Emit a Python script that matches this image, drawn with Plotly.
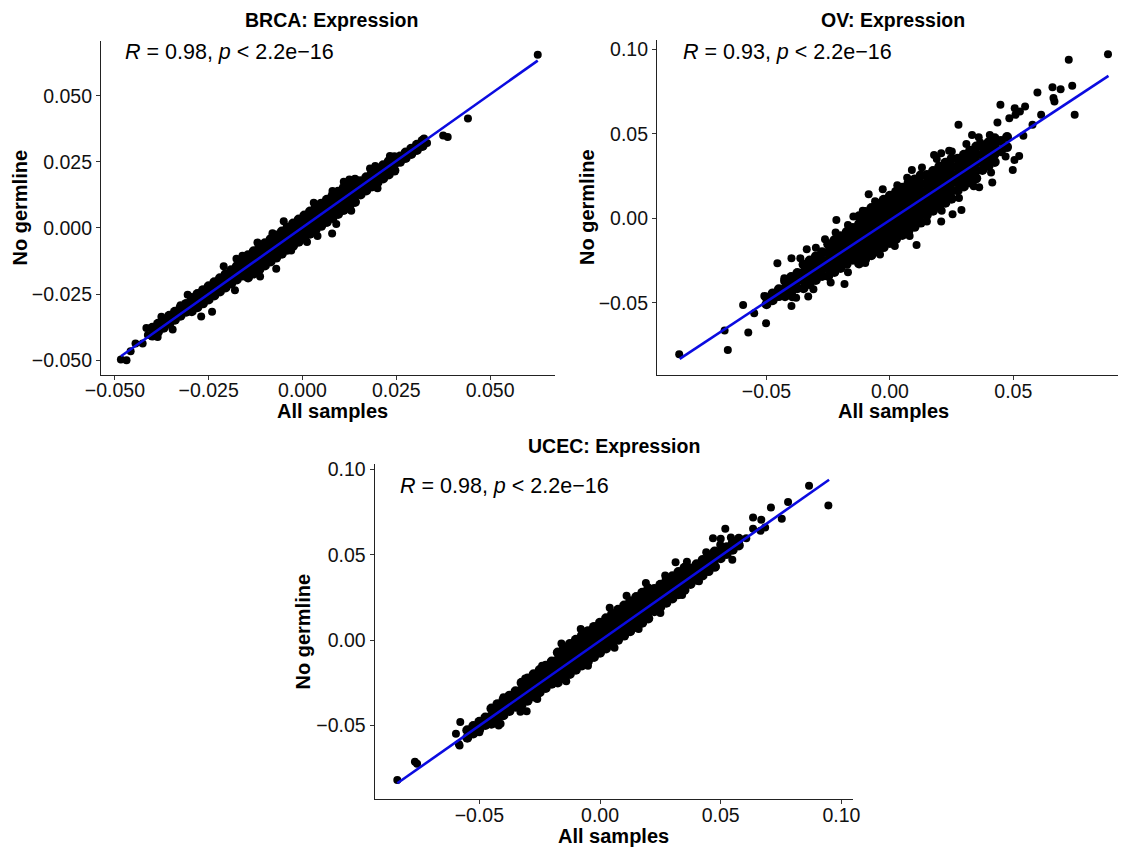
import plotly.graph_objects as go

FONT = "Liberation Sans, Arial, Helvetica, sans-serif"

# ---------------- BRCA ----------------
brca_core_x = [
    -0.0400, -0.0400, -0.0385, -0.0385, -0.0370, -0.0370, -0.0355, -0.0355, -0.0340, -0.0340, -0.0325, -0.0325, -0.0310, -0.0310,
    -0.0295, -0.0295, -0.0295, -0.0280, -0.0280, -0.0280, -0.0265, -0.0265, -0.0265, -0.0250, -0.0250, -0.0250, -0.0235, -0.0235, -0.0235,
    -0.0220, -0.0220, -0.0220, -0.0205, -0.0205, -0.0205, -0.0190, -0.0190, -0.0190, -0.0175, -0.0175, -0.0175, -0.0160, -0.0160, -0.0160,
    -0.0145, -0.0145, -0.0145, -0.0145, -0.0130, -0.0130, -0.0130, -0.0130, -0.0115, -0.0115, -0.0115, -0.0115, -0.0100, -0.0100, -0.0100, -0.0100, -0.0085, -0.0085, -0.0085, -0.0085,
    -0.0070, -0.0070, -0.0070, -0.0070, -0.0055, -0.0055, -0.0055, -0.0055, -0.0040, -0.0040, -0.0040, -0.0040, -0.0025, -0.0025, -0.0025, -0.0025, -0.0010, -0.0010, -0.0010, -0.0010,
    0.0005, 0.0005, 0.0005, 0.0005, 0.0020, 0.0020, 0.0020, 0.0020, 0.0035, 0.0035, 0.0035, 0.0035, 0.0050, 0.0050, 0.0050, 0.0050, 0.0065, 0.0065, 0.0065, 0.0065,
    0.0080, 0.0080, 0.0080, 0.0080, 0.0095, 0.0095, 0.0095, 0.0095, 0.0110, 0.0110, 0.0110, 0.0110, 0.0125, 0.0125, 0.0125, 0.0125, 0.0140, 0.0140, 0.0140, 0.0140,
    0.0155, 0.0155, 0.0155, 0.0170, 0.0170, 0.0170, 0.0185, 0.0185, 0.0185, 0.0200, 0.0200, 0.0200, 0.0215, 0.0215, 0.0215, 0.0230, 0.0230, 0.0230, 0.0245, 0.0245, 0.0245,
    0.0260, 0.0260, 0.0275, 0.0275, 0.0290, 0.0290, 0.0305, 0.0305, 0.0320, 0.0320,
]
brca_core_y = [
    -0.0407, -0.0377, -0.0392, -0.0362, -0.0377, -0.0347, -0.0362, -0.0332, -0.0347, -0.0317, -0.0332, -0.0302, -0.0317, -0.0287,
    -0.0315, -0.0290, -0.0265, -0.0300, -0.0275, -0.0250, -0.0285, -0.0260, -0.0235, -0.0270, -0.0245, -0.0220, -0.0255, -0.0230, -0.0205,
    -0.0240, -0.0215, -0.0190, -0.0225, -0.0200, -0.0175, -0.0210, -0.0185, -0.0160, -0.0195, -0.0170, -0.0145, -0.0180, -0.0155, -0.0130,
    -0.0187, -0.0159, -0.0131, -0.0103, -0.0172, -0.0144, -0.0116, -0.0088, -0.0157, -0.0129, -0.0101, -0.0073, -0.0142, -0.0114, -0.0086, -0.0058, -0.0127, -0.0099, -0.0071, -0.0043,
    -0.0112, -0.0084, -0.0056, -0.0028, -0.0097, -0.0069, -0.0041, -0.0013, -0.0082, -0.0054, -0.0026, 0.0002, -0.0067, -0.0039, -0.0011, 0.0017, -0.0052, -0.0024, 0.0004, 0.0032,
    -0.0037, -0.0009, 0.0019, 0.0047, -0.0022, 0.0006, 0.0034, 0.0062, -0.0007, 0.0021, 0.0049, 0.0077, 0.0008, 0.0036, 0.0064, 0.0092, 0.0023, 0.0051, 0.0079, 0.0107,
    0.0038, 0.0066, 0.0094, 0.0122, 0.0053, 0.0081, 0.0109, 0.0137, 0.0068, 0.0096, 0.0124, 0.0152, 0.0083, 0.0111, 0.0139, 0.0167, 0.0098, 0.0126, 0.0154, 0.0182,
    0.0127, 0.0152, 0.0177, 0.0142, 0.0167, 0.0192, 0.0157, 0.0182, 0.0207, 0.0172, 0.0197, 0.0222, 0.0187, 0.0212, 0.0237, 0.0202, 0.0227, 0.0252, 0.0217, 0.0242, 0.0267,
    0.0250, 0.0270, 0.0265, 0.0285, 0.0280, 0.0300, 0.0295, 0.0315, 0.0310, 0.0330,
]
brca_edge_x = [-0.0210, -0.0120, -0.0050, -0.0160, -0.0080, 0.0030, 0.0080, 0.0110, 0.0180,
               -0.0030, 0.0040, 0.0090, 0.0130, 0.0200, -0.0180, -0.0270]
brca_edge_y = [-0.0145, -0.0055, 0.0025, -0.0105, -0.0020, 0.0095, 0.0140, 0.0175, 0.0225,
               -0.0085, -0.0030, 0.0015, 0.0065, 0.0150, -0.0235, -0.0335]
brca_out_x = [0.0627, 0.0441, 0.0375, 0.0387, 0.0332, 0.0324, 0.0284, 0.0233, 0.0194, 0.0125,
              0.0079, 0.0012, -0.0070, -0.0113, -0.0176, -0.0241, -0.0306, -0.0325, -0.0376, -0.0416,
              -0.0346, -0.0386, -0.0412, -0.0445, -0.0426, -0.0458, -0.0484, -0.0469, 0.0290, 0.0257]
brca_out_y = [0.0655, 0.0414, 0.0350, 0.0344, 0.0321, 0.0338, 0.0281, 0.0272, 0.0234, 0.0183,
              -0.0021, -0.0053, -0.0154, -0.0183, -0.0116, -0.0317, -0.0252, -0.0292, -0.0336, -0.0378,
              -0.0384, -0.0412, -0.0405, -0.0437, -0.0437, -0.0466, -0.0497, -0.0500, 0.0287, 0.0268]
brca_fit_x = [-0.0484, 0.0627]
brca_fit_y = [-0.0485, 0.0633]

# ---------------- OV ----------------
ov_core_x = [
    -0.0500, -0.0500, -0.0475, -0.0475, -0.0450, -0.0450,
    -0.0425, -0.0425, -0.0425, -0.0400, -0.0400, -0.0400, -0.0375, -0.0375, -0.0375,
    -0.0350, -0.0350, -0.0350, -0.0350, -0.0325, -0.0325, -0.0325, -0.0325, -0.0300, -0.0300, -0.0300, -0.0300, -0.0275, -0.0275, -0.0275, -0.0275,
    -0.0250, -0.0250, -0.0250, -0.0250, -0.0250, -0.0225, -0.0225, -0.0225, -0.0225, -0.0225, -0.0200, -0.0200, -0.0200, -0.0200, -0.0200,
    -0.0175, -0.0175, -0.0175, -0.0175, -0.0175, -0.0150, -0.0150, -0.0150, -0.0150, -0.0150,
    -0.0125, -0.0125, -0.0125, -0.0125, -0.0125, -0.0125, -0.0125,
    -0.0100, -0.0100, -0.0100, -0.0100, -0.0100, -0.0100, -0.0100,
    -0.0075, -0.0075, -0.0075, -0.0075, -0.0075, -0.0075, -0.0075,
    -0.0050, -0.0050, -0.0050, -0.0050, -0.0050, -0.0050, -0.0050,
    -0.0025, -0.0025, -0.0025, -0.0025, -0.0025, -0.0025, -0.0025,
    0.0000, 0.0000, 0.0000, 0.0000, 0.0000, 0.0000, 0.0000,
    0.0025, 0.0025, 0.0025, 0.0025, 0.0025, 0.0025, 0.0025,
    0.0050, 0.0050, 0.0050, 0.0050, 0.0050, 0.0050, 0.0050,
    0.0075, 0.0075, 0.0075, 0.0075, 0.0075, 0.0075, 0.0075,
    0.0100, 0.0100, 0.0100, 0.0100, 0.0100, 0.0100, 0.0100,
    0.0125, 0.0125, 0.0125, 0.0125, 0.0125, 0.0125, 0.0125,
    0.0150, 0.0150, 0.0150, 0.0150, 0.0150, 0.0150,
    0.0175, 0.0175, 0.0175, 0.0175, 0.0175, 0.0175,
    0.0200, 0.0200, 0.0200, 0.0200, 0.0200, 0.0200,
    0.0225, 0.0225, 0.0225, 0.0225, 0.0225, 0.0225,
    0.0250, 0.0250, 0.0250, 0.0250, 0.0250, 0.0250,
    0.0275, 0.0275, 0.0275, 0.0275, 0.0275, 0.0300, 0.0300, 0.0300, 0.0300, 0.0300,
    0.0325, 0.0325, 0.0325, 0.0325, 0.0325, 0.0350, 0.0350, 0.0350, 0.0350, 0.0350,
    0.0375, 0.0375, 0.0375, 0.0375, 0.0400, 0.0400, 0.0400, 0.0400, 0.0425, 0.0425, 0.0425, 0.0425,
    0.0450, 0.0450, 0.0475, 0.0475,
]
ov_core_y = [
    -0.0509, -0.0469, -0.0485, -0.0445, -0.0461, -0.0421,
    -0.0462, -0.0417, -0.0372, -0.0438, -0.0393, -0.0348, -0.0414, -0.0369, -0.0324,
    -0.0414, -0.0367, -0.0321, -0.0274, -0.0390, -0.0343, -0.0297, -0.0250, -0.0366, -0.0319, -0.0273, -0.0226, -0.0342, -0.0295, -0.0249, -0.0202,
    -0.0342, -0.0295, -0.0248, -0.0201, -0.0154, -0.0318, -0.0271, -0.0224, -0.0177, -0.0130, -0.0294, -0.0247, -0.0200, -0.0153, -0.0106,
    -0.0270, -0.0223, -0.0176, -0.0129, -0.0082, -0.0246, -0.0199, -0.0152, -0.0105, -0.0058,
    -0.0268, -0.0221, -0.0175, -0.0128, -0.0081, -0.0035, 0.0012,
    -0.0243, -0.0196, -0.0150, -0.0103, -0.0056, -0.0010, 0.0037,
    -0.0219, -0.0172, -0.0126, -0.0079, -0.0032, 0.0014, 0.0061,
    -0.0195, -0.0148, -0.0102, -0.0055, -0.0008, 0.0038, 0.0085,
    -0.0171, -0.0124, -0.0078, -0.0031, 0.0016, 0.0062, 0.0109,
    -0.0147, -0.0100, -0.0054, -0.0007, 0.0040, 0.0086, 0.0133,
    -0.0123, -0.0076, -0.0030, 0.0017, 0.0064, 0.0110, 0.0157,
    -0.0099, -0.0052, -0.0006, 0.0041, 0.0088, 0.0134, 0.0181,
    -0.0075, -0.0028, 0.0018, 0.0065, 0.0112, 0.0158, 0.0205,
    -0.0051, -0.0004, 0.0042, 0.0089, 0.0136, 0.0182, 0.0229,
    -0.0026, 0.0021, 0.0067, 0.0114, 0.0161, 0.0207, 0.0254,
    0.0020, 0.0067, 0.0114, 0.0162, 0.0209, 0.0256,
    0.0044, 0.0091, 0.0138, 0.0186, 0.0233, 0.0280,
    0.0068, 0.0115, 0.0162, 0.0210, 0.0257, 0.0304,
    0.0092, 0.0139, 0.0186, 0.0234, 0.0281, 0.0328,
    0.0116, 0.0163, 0.0210, 0.0258, 0.0305, 0.0352,
    0.0164, 0.0211, 0.0258, 0.0305, 0.0352, 0.0188, 0.0235, 0.0282, 0.0329, 0.0376,
    0.0212, 0.0259, 0.0306, 0.0353, 0.0400, 0.0236, 0.0283, 0.0330, 0.0377, 0.0424,
    0.0285, 0.0332, 0.0378, 0.0425, 0.0309, 0.0356, 0.0402, 0.0449, 0.0333, 0.0380, 0.0426, 0.0473,
    0.0397, 0.0457, 0.0421, 0.0481,
]
ov_edge_x = [-0.0300, -0.0220, -0.0170, -0.0110, -0.0060, 0.0030, 0.0070, 0.0130, 0.0190, 0.0240, 0.0310, 0.0360,
             -0.0380, -0.0310, -0.0240, -0.0170, -0.0100, -0.0040, 0.0020, 0.0080, 0.0150, 0.0210, 0.0280, 0.0340, 0.0410]
ov_edge_y = [-0.0175, -0.0085, -0.0040, 0.0045, 0.0100, 0.0195, 0.0240, 0.0300, 0.0350, 0.0400, 0.0440, 0.0480,
             -0.0470, -0.0420, -0.0380, -0.0320, -0.0265, -0.0215, -0.0165, -0.0105, -0.0020, 0.0045, 0.0120, 0.0190, 0.0270]
ov_out_x = [-0.0854, -0.0657, -0.0670, -0.0574, -0.0595, -0.0502, -0.0550, -0.0509, -0.0492, -0.0456,
            -0.0428, -0.0399, -0.0456, -0.0363, -0.0399, -0.0395, -0.0331, -0.0337, -0.0263, -0.0184,
            -0.0217, -0.0148, -0.0086, -0.0029, 0.0089, 0.0108, 0.0208, 0.0254, 0.0290, 0.0278,
            0.0333, 0.0179, 0.0208, 0.0251, 0.0366, 0.0405, 0.0436, 0.0448, 0.0484, 0.0506,
            0.0509, 0.0527, 0.0548, 0.0505, 0.0524, 0.0498, 0.0541, 0.0578, 0.0598, 0.0613,
            0.0663, 0.0659, 0.0692, 0.0667, 0.0739, 0.0749, 0.0725, 0.0884, 0.0415, 0.0362,
            0.0405, 0.0469, 0.0146, 0.0053]
ov_out_y = [-0.0805, -0.0780, -0.0665, -0.0677, -0.0513, -0.0622, -0.0563, -0.0460, -0.0493, -0.0464,
            -0.0355, -0.0237, -0.0266, -0.0237, -0.0519, -0.0468, -0.0464, -0.0184, -0.0124, -0.0389,
            -0.0010, 0.0010, 0.0142, 0.0172, 0.0286, -0.0158, -0.0020, 0.0024, 0.0049, 0.0553,
            0.0493, 0.0375, 0.0385, 0.0395, 0.0448, 0.0493, 0.0566, 0.0671, 0.0592, 0.0651,
            0.0612, 0.0632, 0.0661, 0.0345, 0.0369, 0.0286, 0.0488, 0.0553, 0.0744, 0.0612,
            0.0711, 0.0776, 0.0764, 0.0691, 0.0784, 0.0612, 0.0938, 0.0971, 0.0211, 0.0184,
            0.0365, 0.0365, 0.0030, -0.0089]
ov_fit_x = [-0.0852, 0.0886]
ov_fit_y = [-0.0833, 0.0843]

# ---------------- UCEC ----------------
ucec_core_x = [
    -0.0550, -0.0550, -0.0525, -0.0525, -0.0500, -0.0500, -0.0475, -0.0475,
    -0.0450, -0.0450, -0.0450, -0.0425, -0.0425, -0.0425, -0.0400, -0.0400, -0.0400, -0.0375, -0.0375, -0.0375, -0.0350, -0.0350, -0.0350,
    -0.0325, -0.0325, -0.0325, -0.0325, -0.0300, -0.0300, -0.0300, -0.0300, -0.0275, -0.0275, -0.0275, -0.0275,
    -0.0250, -0.0250, -0.0250, -0.0250, -0.0225, -0.0225, -0.0225, -0.0225, -0.0200, -0.0200, -0.0200, -0.0200,
    -0.0175, -0.0175, -0.0175, -0.0175, -0.0175, -0.0150, -0.0150, -0.0150, -0.0150, -0.0150,
    -0.0125, -0.0125, -0.0125, -0.0125, -0.0125, -0.0100, -0.0100, -0.0100, -0.0100, -0.0100,
    -0.0075, -0.0075, -0.0075, -0.0075, -0.0075, -0.0050, -0.0050, -0.0050, -0.0050, -0.0050,
    -0.0025, -0.0025, -0.0025, -0.0025, -0.0025, 0.0000, 0.0000, 0.0000, 0.0000, 0.0000,
    0.0025, 0.0025, 0.0025, 0.0025, 0.0025, 0.0050, 0.0050, 0.0050, 0.0050, 0.0050,
    0.0075, 0.0075, 0.0075, 0.0075, 0.0075, 0.0100, 0.0100, 0.0100, 0.0100, 0.0100,
    0.0125, 0.0125, 0.0125, 0.0125, 0.0125, 0.0150, 0.0150, 0.0150, 0.0150, 0.0150,
    0.0175, 0.0175, 0.0175, 0.0175, 0.0175, 0.0200, 0.0200, 0.0200, 0.0200, 0.0200,
    0.0225, 0.0225, 0.0225, 0.0225, 0.0250, 0.0250, 0.0250, 0.0250, 0.0275, 0.0275, 0.0275, 0.0275,
    0.0300, 0.0300, 0.0300, 0.0300, 0.0325, 0.0325, 0.0325, 0.0325, 0.0350, 0.0350, 0.0350, 0.0350,
    0.0375, 0.0375, 0.0375, 0.0400, 0.0400, 0.0400, 0.0425, 0.0425, 0.0425, 0.0450, 0.0450, 0.0450, 0.0475, 0.0475, 0.0475,
    0.0500, 0.0500, 0.0525, 0.0525, 0.0550, 0.0550, 0.0575, 0.0575,
]
ucec_core_y = [
    -0.0572, -0.0528, -0.0547, -0.0503, -0.0522, -0.0478, -0.0497, -0.0453,
    -0.0490, -0.0445, -0.0400, -0.0465, -0.0420, -0.0375, -0.0440, -0.0395, -0.0350, -0.0415, -0.0370, -0.0325, -0.0390, -0.0345, -0.0300,
    -0.0380, -0.0337, -0.0293, -0.0250, -0.0355, -0.0312, -0.0268, -0.0225, -0.0330, -0.0287, -0.0243, -0.0200,
    -0.0305, -0.0262, -0.0218, -0.0175, -0.0280, -0.0237, -0.0193, -0.0150, -0.0255, -0.0212, -0.0168, -0.0125,
    -0.0248, -0.0204, -0.0160, -0.0116, -0.0072, -0.0223, -0.0179, -0.0135, -0.0091, -0.0047,
    -0.0198, -0.0154, -0.0110, -0.0066, -0.0022, -0.0173, -0.0129, -0.0085, -0.0041, 0.0003,
    -0.0148, -0.0104, -0.0060, -0.0016, 0.0028, -0.0123, -0.0079, -0.0035, 0.0009, 0.0053,
    -0.0098, -0.0054, -0.0010, 0.0034, 0.0078, -0.0073, -0.0029, 0.0015, 0.0059, 0.0103,
    -0.0048, -0.0004, 0.0040, 0.0084, 0.0128, -0.0023, 0.0021, 0.0065, 0.0109, 0.0153,
    0.0002, 0.0046, 0.0090, 0.0134, 0.0178, 0.0027, 0.0071, 0.0115, 0.0159, 0.0203,
    0.0052, 0.0096, 0.0140, 0.0184, 0.0228, 0.0077, 0.0121, 0.0165, 0.0209, 0.0253,
    0.0102, 0.0146, 0.0190, 0.0234, 0.0278, 0.0127, 0.0171, 0.0215, 0.0259, 0.0303,
    0.0170, 0.0213, 0.0257, 0.0300, 0.0195, 0.0238, 0.0282, 0.0325, 0.0220, 0.0263, 0.0307, 0.0350,
    0.0245, 0.0288, 0.0332, 0.0375, 0.0270, 0.0313, 0.0357, 0.0400, 0.0295, 0.0338, 0.0382, 0.0425,
    0.0330, 0.0375, 0.0420, 0.0355, 0.0400, 0.0445, 0.0380, 0.0425, 0.0470, 0.0405, 0.0450, 0.0495, 0.0430, 0.0475, 0.0520,
    0.0480, 0.0520, 0.0505, 0.0545, 0.0530, 0.0570, 0.0555, 0.0595,
]
ucec_edge_x = [-0.0400, -0.0310, -0.0240, -0.0160, -0.0080, 0.0040, 0.0110, 0.0190, 0.0270, 0.0360, 0.0440, 0.0500,
               -0.0420, -0.0330, -0.0260, -0.0140, -0.0050, 0.0060, 0.0160, 0.0250, 0.0340, 0.0410, 0.0480]
ucec_edge_y = [-0.0335, -0.0225, -0.0150, -0.0020, 0.0065, 0.0190, 0.0260, 0.0335, 0.0380, 0.0460, 0.0515, 0.0595,
               -0.0500, -0.0420, -0.0345, -0.0240, -0.0150, -0.0045, 0.0065, 0.0160, 0.0265, 0.0345, 0.0430]
ucec_out_x = [-0.0840, -0.0767, -0.0758, -0.0585, -0.0579, -0.0597, -0.0582, -0.0412, -0.0500, -0.0304,
              0.0313, 0.0519, 0.0468, 0.0542, 0.0548, 0.0668, 0.0634, 0.0708, 0.0753, 0.0779,
              0.0684, 0.0665, 0.0634, 0.0866, 0.0946, 0.0606, 0.0576, 0.0498]
ucec_out_y = [-0.0820, -0.0712, -0.0725, -0.0608, -0.0480, -0.0549, -0.0618, -0.0490, -0.0539, -0.0416,
              0.0457, 0.0653, 0.0598, 0.0602, 0.0471, 0.0706, 0.0720, 0.0778, 0.0712, 0.0810,
              0.0661, 0.0641, 0.0653, 0.0906, 0.0790, 0.0598, 0.0569, 0.0559]
ucec_fit_x = [-0.0840, 0.0949]
ucec_fit_y = [-0.0839, 0.0941]

# ---------------- labels / ticks ----------------
titles = ["BRCA: Expression", "OV: Expression", "UCEC: Expression"]
r_labels = ["0.98", "0.93", "0.98"]
x_label = "All samples"
y_label = "No germline"
brca_ticks = [-0.05, -0.025, 0.0, 0.025, 0.05]
brca_ticktext = ["\u22120.050", "\u22120.025", "0.000", "0.025", "0.050"]
ov_xticks = [-0.05, 0.0, 0.05]
ov_xticktext = ["\u22120.05", "0.00", "0.05"]
ov_yticks = [-0.05, 0.0, 0.05, 0.10]
ov_yticktext = ["\u22120.05", "0.00", "0.05", "0.10"]
ucec_ticks = [-0.05, 0.0, 0.05, 0.10]
ucec_ticktext = ["\u22120.05", "0.00", "0.05", "0.10"]

# page is 1126x848; the page body has an 8px margin, so the figure is 8px smaller
OFF = 8
W, H = 1126 - OFF, 848 - OFF
def px(x):
    return (x - OFF) / W
def py(y):
    return 1 - (y - OFF) / H

fig = go.Figure()
panels = [
    (brca_core_x, brca_core_y, brca_edge_x + brca_out_x, brca_edge_y + brca_out_y, brca_fit_x, brca_fit_y, "x", "y"),
    (ov_core_x, ov_core_y, ov_edge_x + ov_out_x, ov_edge_y + ov_out_y, ov_fit_x, ov_fit_y, "x2", "y2"),
    (ucec_core_x, ucec_core_y, ucec_edge_x + ucec_out_x, ucec_edge_y + ucec_out_y, ucec_fit_x, ucec_fit_y, "x3", "y3"),
]
for cx, cy, ox, oy, fx, fy, xa, ya in panels:
    fig.add_trace(go.Scatter(x=cx, y=cy, mode="markers", xaxis=xa, yaxis=ya,
                             marker=dict(color="black", size=10, line=dict(width=0)),
                             showlegend=False, hoverinfo="skip"))
    fig.add_trace(go.Scatter(x=ox, y=oy, mode="markers", xaxis=xa, yaxis=ya,
                             marker=dict(color="black", size=8, line=dict(width=0)),
                             showlegend=False, hoverinfo="skip"))
    fig.add_trace(go.Scatter(x=fx, y=fy, mode="lines", xaxis=xa, yaxis=ya,
                             line=dict(color="#0b0be0", width=2.6),
                             showlegend=False, hoverinfo="skip"))

def axis(domain, rng, tickvals, ticktext, anchor, standoff):
    return dict(domain=domain, range=rng, anchor=anchor, tickvals=tickvals, ticktext=ticktext,
                showline=True, linecolor="#222222", linewidth=1.2, ticks="outside", ticklen=4,
                tickwidth=1.1, tickcolor="#333333", showgrid=False, zeroline=False,
                tickfont=dict(family=FONT, size=19.5, color="#111111"), automargin=False,
                ticklabelstandoff=standoff, fixedrange=True)

fig.update_layout(
    width=W, height=H, template="none",
    margin=dict(l=0, r=0, t=0, b=0),
    paper_bgcolor="white", plot_bgcolor="white",
    xaxis=axis([px(101), px(555)], [-0.0537, 0.0673], brca_ticks, brca_ticktext, "y", -6),
    yaxis=axis([py(374.5), py(41)], [-0.0554, 0.0707], brca_ticks, brca_ticktext, "x", 0),
    xaxis2=axis([px(657), 1.0], [-0.0944, 0.0957], ov_xticks, ov_xticktext, "y2", -6),
    yaxis2=axis([py(375), py(40)], [-0.0928, 0.1055], ov_yticks, ov_yticktext, "x2", 0),
    xaxis3=axis([px(374.6), px(852.5)], [-0.0934, 0.1046], ucec_ticks, ucec_ticktext, "y3", -6),
    yaxis3=axis([py(799), py(464)], [-0.0931, 0.1033], ucec_ticks, ucec_ticktext, "x3", 0),
)

ann = []
title_pos = [(331.5, 20.5), (893, 20.5), (613.5, 446)]
xlab_pos = [(332.5, 410.5), (893, 410.5), (613.5, 835.5)]
ylab_pos = [(19, 207.5), (587, 207), (302.5, 632)]
r_pos = [(122.7, 52), (680.6, 52), (398, 486)]
for i in range(3):
    ann.append(dict(x=px(title_pos[i][0]), y=py(title_pos[i][1]), xref="paper", yref="paper",
                    text="<b>%s</b>" % titles[i], showarrow=False, xanchor="center", yanchor="middle",
                    font=dict(family=FONT, size=19.5, color="black")))
    ann.append(dict(x=px(xlab_pos[i][0]), y=py(xlab_pos[i][1]), xref="paper", yref="paper",
                    text="<b>%s</b>" % x_label, showarrow=False, xanchor="center", yanchor="middle",
                    font=dict(family=FONT, size=20, color="black")))
    ann.append(dict(x=px(ylab_pos[i][0]), y=py(ylab_pos[i][1]), xref="paper", yref="paper",
                    text="<b>%s</b>" % y_label, showarrow=False, xanchor="center", yanchor="middle",
                    textangle=-90, font=dict(family=FONT, size=20, color="black")))
    ann.append(dict(x=px(r_pos[i][0]), y=py(r_pos[i][1]), xref="paper", yref="paper",
                    text="<i>R</i> = %s, <i>p</i> &lt; 2.2e\u221216" % r_labels[i], showarrow=False,
                    xanchor="left", yanchor="middle",
                    font=dict(family=FONT, size=21.5, color="black")))
fig.update_layout(annotations=ann)

fig.write_html("out.html")
